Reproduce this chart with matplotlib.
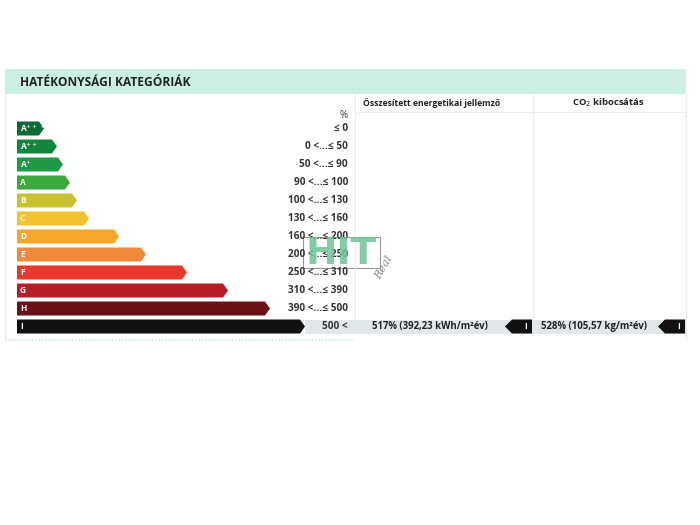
import numpy as np
import matplotlib
matplotlib.use("Agg")
import matplotlib.pyplot as plt
from matplotlib.patches import Polygon, Rectangle

plt.rcParams['font.family'] = ['Open Sans', 'DejaVu Sans']

# energy classes and their arrow lengths (px, from the left edge)
classes = ["A+++", "A++", "A+", "A", "B", "C", "D", "E", "F", "G", "H", "I"]
bar_len = [27, 40, 46, 53, 60, 72, 102, 129, 170, 211, 253, 288]
colors = ["#0b6a36", "#12863d", "#1f9946", "#3ba93d", "#c6c230", "#f1c232",
          "#f4a728", "#ef8a38", "#e8392c", "#b51e25", "#6a1017", "#111111"]
ranges = ["≤ 0", "0 <...≤ 50", "50 <...≤ 90", "90 <...≤ 100", "100 <...≤ 130",
          "130 <...≤ 160", "160 <...≤ 200", "200 <...≤ 250", "250 <...≤ 310",
          "310 <...≤ 390", "390 <...≤ 500", "500 <"]

energy_text = "517% (392,23 kWh/m²év)"
co2_text = "528% (105,57 kg/m²év)"
result_class = "I"

x0 = 17
row0 = 128.5
row_step = 18.0
bar_h = 14
tip = 5

fig = plt.figure(figsize=(7, 5.25), dpi=100)
ax = fig.add_axes([0, 0, 1, 1])
ax.set_xlim(0, 700)
ax.set_ylim(525, 0)
ax.axis("off")

# header band
ax.add_patch(Rectangle((5, 69), 681, 25, color="#cbefe2", lw=0))
ax.text(20, 82, "HATÉKONYSÁGI KATEGÓRIÁK", fontsize=8.6, fontweight="bold",
        color="#222222", va="center")

# faint frame lines
ax.plot([5, 5], [94, 340], color="#e6ecea", lw=0.8)
ax.plot([355, 355], [94, 320], color="#eceeee", lw=0.8)
ax.plot([533, 533], [94, 320], color="#eceeee", lw=0.8)
ax.plot([686, 686], [94, 340], color="#eceeee", lw=0.8)
ax.plot([355, 686], [112, 112], color="#eceeee", lw=0.8)
ax.plot([5, 355], [340, 340], color="#cfeee2", lw=1.2, ls=(0, (1, 1)))

ax.text(363, 103, "Összesített energetikai jellemző", fontsize=6.2,
        fontweight="bold", color="#222222", va="center")
ax.text(572, 103, "CO$_2$ kibocsátás", fontsize=6.8, fontweight="bold",
        color="#222222", va="center")
ax.text(348, 116, "%", fontsize=7, color="#333333", ha="right", va="center")

ys = row0 + row_step * np.arange(len(classes))
for cls, ln, c, rng, y in zip(classes, bar_len, colors, ranges, ys):
    xe = x0 + ln
    if cls == result_class:
        ax.add_patch(Rectangle((xe, y - bar_h / 2), 686 - xe, bar_h,
                               color="#e2e7ea", lw=0))
    pts = [(x0, y - bar_h / 2), (xe - tip, y - bar_h / 2), (xe, y),
           (xe - tip, y + bar_h / 2), (x0, y + bar_h / 2)]
    ax.add_patch(Polygon(pts, closed=True, color=c, lw=0))
    ax.text(x0 + 3, y, cls if len(cls) == 1 else "A" + r"$^{" + cls[1:] + "}$",
            fontsize=6, fontweight="bold", color="white", va="center")
    ax.text(348, y, rng, fontsize=7.2, fontweight="bold", color="#333333",
            ha="right", va="center")

# result rows with left-pointing class markers
yi = ys[classes.index(result_class)]
for txt, tx, ax0 in [(energy_text, 372, 505), (co2_text, 541, 658)]:
    ax.text(tx, yi, txt, fontsize=6.9, fontweight="bold", color="#222222",
            va="center")
    pts = [(ax0, yi), (ax0 + 7, yi - bar_h / 2), (ax0 + 27, yi - bar_h / 2),
           (ax0 + 27, yi + bar_h / 2), (ax0 + 7, yi + bar_h / 2)]
    ax.add_patch(Polygon(pts, closed=True, color="#111111", lw=0))
    ax.text(ax0 + 21, yi, result_class, fontsize=6, fontweight="bold",
            color="white", va="center", ha="center")

# watermark
ax.add_patch(Rectangle((303, 237), 77, 31, fill=False, ec="#9a9a9a", lw=0.8))
ax.text(341, 254, "HIT", fontsize=27, fontweight="bold", color="#6cc596",
        alpha=0.85, ha="center", va="center", family="DejaVu Sans")
ax.text(384, 268, "Real", fontsize=8, style="italic", color="#8a8a8a",
        rotation=60, ha="center", va="center", family="DejaVu Serif")

fig.savefig("out.png", dpi=100)
